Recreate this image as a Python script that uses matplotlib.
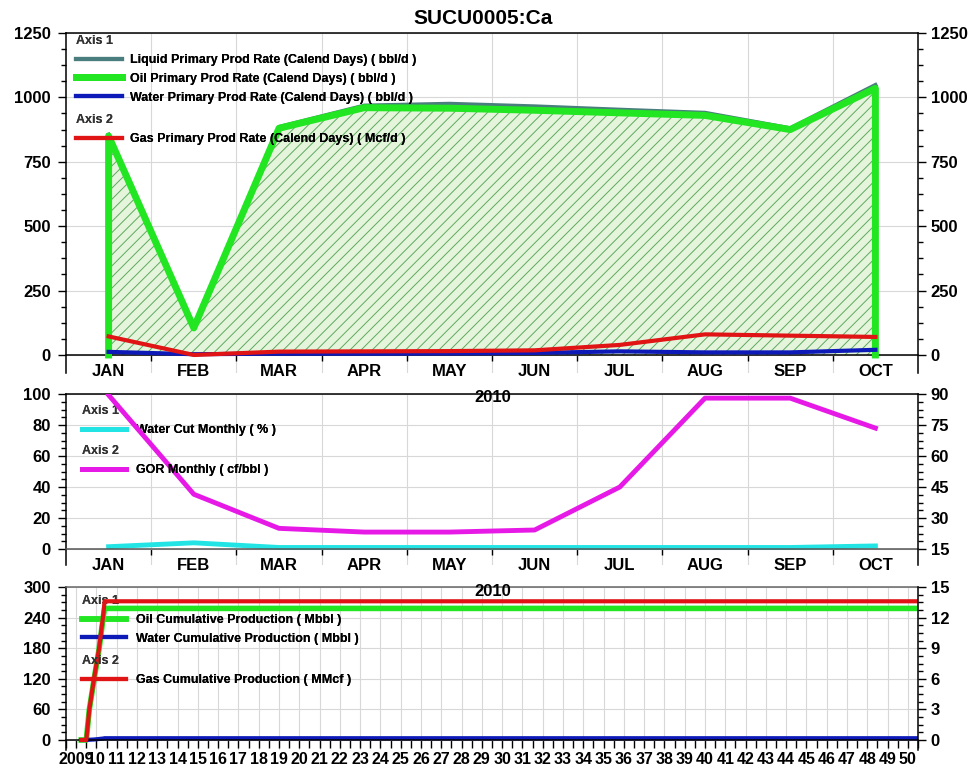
import numpy as np
import matplotlib
matplotlib.use("Agg")
import matplotlib.pyplot as plt
from matplotlib.ticker import MultipleLocator

plt.rcParams.update({"font.family": ["Liberation Sans", "DejaVu Sans"], "font.weight": "bold",
                     "hatch.linewidth": 0.7, "axes.linewidth": 1.1,
                     "xtick.color": "black", "ytick.color": "black"})
W, H = 980, 769
GRID = "#d8d8d8"
C_LIQ, C_OIL, C_WAT, C_GAS = "#4a7d7d", "#22e622", "#0d1ab8", "#e01414"
C_WCUT, C_GOR = "#22e4e4", "#e619e6"

# --- monthly rates, 2010 ---
MONTHS = ["JAN", "FEB", "MAR", "APR", "MAY", "JUN", "JUL", "AUG", "SEP", "OCT"]
LIQUID = [855, 110, 885, 968, 975, 965, 952, 940, 880, 1048]
OIL = [850, 105, 880, 960, 958, 950, 940, 930, 875, 1035]
WATER = [12, 3, 5, 5, 6, 8, 14, 10, 10, 20]
GAS = [72, 0, 13, 14, 15, 18, 39, 80, 75, 70]
# --- monthly ratios ---
WCUT = [1.5, 4.0, 1.0, 1.0, 1.0, 1.0, 1.0, 1.0, 1.0, 2.0]
GOR = [89.5, 41.5, 25.0, 23.2, 23.2, 24.2, 45.0, 88.0, 88.0, 73.5]
# --- cumulative production ---
CUM_T = [2009.25, 2009.50, 2009.65, 2009.88, 2010.13, 2010.35, 2010.40, 2050.50]
OIL_CUM = [0, 0, 60, 118, 178, 245, 258, 258]
WATER_CUM = [0, 0, 0.5, 1.0, 2.0, 3.0, 3.5, 3.5]
GAS_CUM = [0, 0, 3.0, 6.0, 9.0, 12.5, 13.6, 13.6]
YEARS = list(range(2009, 2051))
YEAR_LABELS = ["2009"] + [f"{y % 100:02d}" for y in YEARS[1:]]

fig = plt.figure(figsize=(W / 100, H / 100), dpi=100)
L, R = 66 / W, 918 / W


def panel(top_px, bot_px):
    ax = fig.add_axes([L, 1 - bot_px / H, R - L, (bot_px - top_px) / H])
    ax2 = ax.twinx()
    ax.spines["right"].set_visible(False)
    ax2.spines[["left", "bottom", "top"]].set_visible(False)
    ax.spines["bottom"].set_position(("data", 0))
    ax.set_axisbelow(True)
    for a in (ax, ax2):
        a.tick_params(axis="y", which="major", length=6, width=1, labelsize=12)
        a.tick_params(axis="y", which="minor", length=3.5, width=1)
    ax.tick_params(axis="y", pad=5)
    ax2.tick_params(axis="y", pad=3)
    ax.grid(True, axis="y", which="major", color=GRID, lw=0.8)
    return ax, ax2


def month_axis(ax):
    x = np.arange(len(MONTHS))
    ax.set_xlim(-0.5, len(MONTHS) - 0.5)
    ax.set_xticks(x, MONTHS)
    ax.set_xticks(x[:-1] + 0.5, minor=True)
    ax.tick_params(axis="x", which="major", length=0, pad=6.5, labelsize=12)
    ax.tick_params(axis="x", which="minor", length=4, width=1)
    ax.grid(True, axis="x", which="minor", color=GRID, lw=0.8)
    return x


def legend(ax, handles, title, x_px, y_px, hlen=3.7, tpad=0.65, spacing=0.55):
    leg = ax.legend(handles=handles, title=title, loc="upper left",
                    bbox_to_anchor=(x_px / W, 1 - y_px / H), bbox_transform=fig.transFigure,
                    frameon=False, fontsize=9, title_fontsize=9, alignment="left",
                    handlelength=hlen, handletextpad=tpad, labelspacing=spacing,
                    borderpad=0, borderaxespad=0)
    leg.get_title().set_color("#333333")
    ax.add_artist(leg)


# ---------- top: rates ----------
ax, ax2 = panel(33, 373)
x = month_axis(ax)
ax.fill_between(x, 0, OIL, facecolor="#e4f5dc", edgecolor="#5fa85f", hatch="///", lw=0, zorder=1)
l_liq, = ax.plot(x, LIQUID, color=C_LIQ, lw=3, zorder=2, label="Liquid Primary Prod Rate (Calend Days) ( bbl/d )")
l_oil, = ax.plot(np.r_[x[0], x, x[-1]], np.r_[0, OIL, 0], color=C_OIL, lw=5, zorder=3,
                 label="Oil Primary Prod Rate (Calend Days) ( bbl/d )")
l_wat, = ax.plot(x, WATER, color=C_WAT, lw=3, zorder=4, label="Water Primary Prod Rate (Calend Days) ( bbl/d )")
l_gas, = ax2.plot(x, GAS, color=C_GAS, lw=3, label="Gas Primary Prod Rate (Calend Days) ( Mcf/d )")
for a in (ax, ax2):
    a.set_ylim(-70, 1250)
    a.set_yticks(np.arange(0, 1251, 250))
    a.set_yticks(np.arange(0, 1251, 62.5), minor=True)
legend(ax, [l_liq, l_oil, l_wat], "Axis 1", 76, 35)
legend(ax2, [l_gas], "Axis 2", 76, 114)
fig.text(483 / W, 1 - 19 / H, "SUCU0005:Ca", ha="center", va="center", fontsize=15)

# ---------- middle: ratios ----------
ax, ax2 = panel(394, 565)
ax.spines["bottom"].set_color("#555555")
x = month_axis(ax)
l_wc, = ax.plot(x, WCUT, color=C_WCUT, lw=3.5, label="Water Cut Monthly ( % )")
l_gor, = ax2.plot(x, GOR, color=C_GOR, lw=3.5, label="GOR Monthly ( cf/bbl )")
ax.set_ylim(-10.3, 100)
ax.set_yticks(np.arange(0, 101, 20))
ax.set_yticks(np.arange(0, 101, 5), minor=True)
ax2.set_ylim(7.27, 90)
ax2.set_yticks(np.arange(15, 91, 15))
ax2.set_yticks(np.arange(15, 90.1, 3.75), minor=True)
legend(ax, [l_wc], "Axis 1", 82, 405, hlen=3.5, tpad=0.85)
legend(ax2, [l_gor], "Axis 2", 82, 445, hlen=3.5, tpad=0.85)
fig.text(493 / W, 1 - 397 / H, "2010", ha="center", va="center", fontsize=12)

# ---------- bottom: cumulative ----------
ax, ax2 = panel(587, 750)
ax.spines["top"].set_color("#666666")
ax.set_xlim(2008.5, 2050.5)
ax.set_xticks(YEARS, YEAR_LABELS)
ax.xaxis.set_minor_locator(MultipleLocator(0.5))
ax.tick_params(axis="x", which="both", length=6, width=1, pad=2.5, labelsize=11.5)
ax.grid(True, axis="x", which="major", color=GRID, lw=0.8)
l_oc, = ax.plot(CUM_T, OIL_CUM, color=C_OIL, lw=4, label="Oil Cumulative Production ( Mbbl )")
l_wcum, = ax.plot(CUM_T, WATER_CUM, color=C_WAT, lw=3, label="Water Cumulative Production ( Mbbl )")
l_gc, = ax2.plot(CUM_T, GAS_CUM, color=C_GAS, lw=3, label="Gas Cumulative Production ( MMcf )")
ax.set_ylim(-19.6, 300)
ax.set_yticks(np.arange(0, 301, 60))
ax.set_yticks(np.arange(0, 301, 15), minor=True)
ax2.set_ylim(-0.98, 15)
ax2.set_yticks(np.arange(0, 16, 3))
ax2.set_yticks(np.arange(0, 15.1, 0.75), minor=True)
legend(ax, [l_oc, l_wcum], "Axis 1", 82, 595, hlen=3.5, tpad=0.8)
legend(ax2, [l_gc], "Axis 2", 82, 655, hlen=3.5, tpad=0.8)
fig.text(493 / W, 1 - 591 / H, "2010", ha="center", va="center", fontsize=12)

fig.savefig("out.png", dpi=100)
